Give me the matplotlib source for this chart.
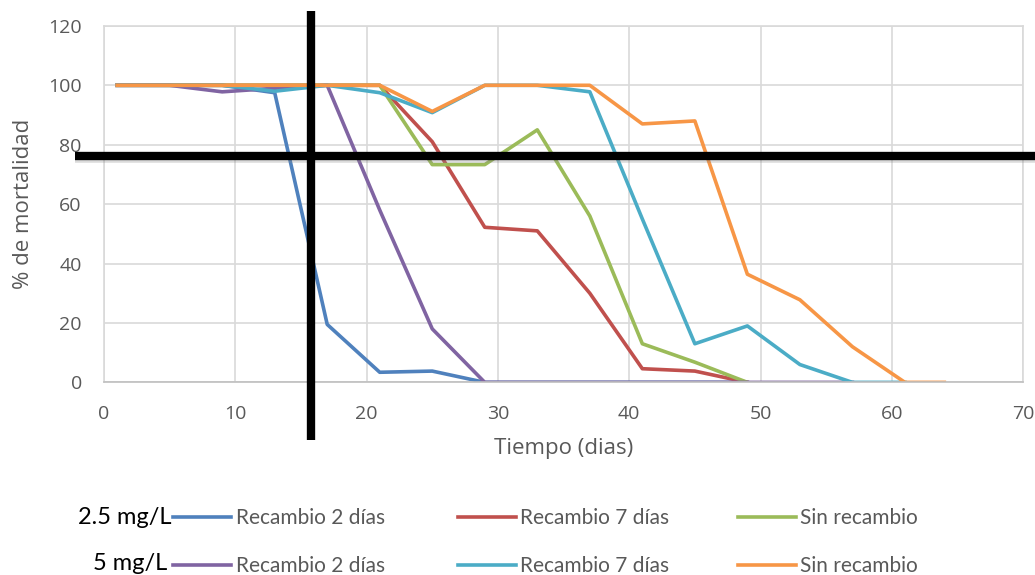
import matplotlib.pyplot as plt

# sampling days and mortality (%) for each treatment
days = [1, 5, 9, 13, 17, 21, 25, 29, 33, 37, 41, 45, 49, 53, 57, 61, 64]

r2_25 = [100, 100, 100, 97.5, 19.5, 3.4, 3.8, 0, 0, 0, 0, 0, 0]
r7_25 = [100, 100, 100, 100, 100, 100, 81, 52.2, 51, 30, 4.6, 3.8, 0]
sr_25 = [100, 100, 100, 100, 100, 100, 73.3, 73.3, 85, 56, 13, 6.8, 0]
r2_5 = [100, 100, 97.8, 99, 100, 58, 18, 0, 0, 0, 0, 0, 0, 0, 0]
r7_5 = [100, 100, 100, 98, 100, 97.5, 90.8, 100, 100, 97.8, 55, 13, 19, 6, 0, 0]
sr_5 = [100, 100, 100, 100, 100, 100, 91.2, 100, 100, 100, 87, 88, 36.4, 27.8, 12, 0, 0]

dose_labels = ["2.5 mg/L", "5 mg/L"]
treat_labels = ["Recambio 2 días", "Recambio 7 días", "Sin recambio"]

# reference cut lines
cut_day = 15.8
cut_pct = 76.3

grey = "#595959"
tick_font = "Open Sans"
leg_font = "Lato"

fig = plt.figure(figsize=(10.35, 5.75), dpi=100)
ax = fig.add_axes([0.1005, 0.335, 0.888, 0.62])

series = [
    (r2_25, "#4F81BD"),
    (r7_25, "#C0504D"),
    (sr_25, "#9BBB59"),
    (r2_5, "#8064A2"),
    (r7_5, "#4BACC6"),
    (sr_5, "#F79646"),
]
lines = []
for vals, col in series:
    ln, = ax.plot(days[:len(vals)], vals, color=col, lw=2.6, solid_joinstyle="round")
    lines.append(ln)

ax.set_xlim(0, 70)
ax.set_ylim(0, 120)
ax.set_xticks(range(0, 71, 10))
ax.set_yticks(range(0, 121, 20))
ax.grid(True, color="#d9d9d9", lw=1.2)
ax.set_axisbelow(True)
for s in ax.spines.values():
    s.set_color("#d9d9d9")
    s.set_linewidth(1.2)
ax.spines["bottom"].set_color("#bfbfbf")
ax.tick_params(length=0, labelsize=14, labelcolor=grey)
ax.tick_params(axis="x", pad=16)
ax.tick_params(axis="y", pad=16)
for t in ax.get_xticklabels() + ax.get_yticklabels():
    t.set_family(tick_font)

ax.set_xlabel("Tiempo (dias)", fontsize=16, color=grey, family=tick_font, labelpad=11)
ax.set_ylabel("% de mortalidad", fontsize=16, color=grey, family=tick_font, labelpad=10)

# thick black cut lines that run past the plot frame
ax.plot([cut_day, cut_day], [-19.5, 125], color="black", lw=6, clip_on=False, zorder=10,
        solid_capstyle="butt")
ax.plot([-2.2, 71], [cut_pct - 1.6, cut_pct - 1.6], color="#888888", lw=4, alpha=0.3,
        clip_on=False, zorder=9, solid_capstyle="butt")
ax.plot([-2.2, 71], [cut_pct, cut_pct], color="black", lw=6, clip_on=False, zorder=10,
        solid_capstyle="butt")

# legend: one column per treatment, rows per dose
col_x = [173 / 1035, 458 / 1035, 738 / 1035]
for i in range(3):
    fig.legend([lines[i], lines[i + 3]], [treat_labels[i]] * 2,
               loc="upper left", bbox_to_anchor=(col_x[i], 1 - 508 / 575),
               frameon=False, handlelength=2.8, handletextpad=0.2,
               labelspacing=1.35, borderpad=0, borderaxespad=0,
               prop={"family": leg_font, "size": 15}, labelcolor=grey)

fig.text(172 / 1035, 1 - 518 / 575, dose_labels[0], ha="right", va="center",
         fontsize=17, color="black", family=leg_font)
fig.text(167 / 1035, 1 - 563 / 575, dose_labels[1], ha="right", va="center",
         fontsize=17, color="black", family=leg_font)

fig.savefig("out.png", dpi=100)
